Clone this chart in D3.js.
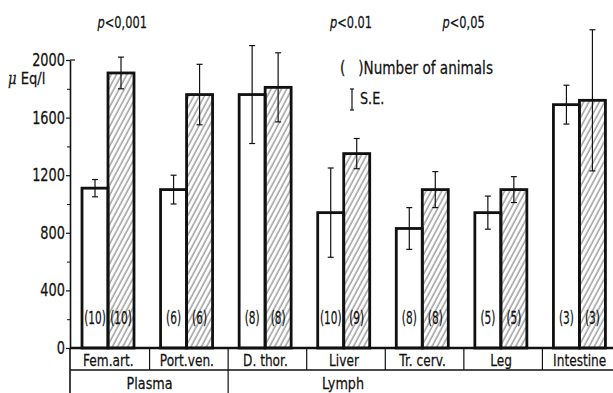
<!DOCTYPE html>
<html>
<head>
<meta charset="utf-8">
<script src="https://cdn.jsdelivr.net/npm/d3@7"></script>
<style>
  body { margin: 0; background: #fff; }
  svg { display: block; }
  text { font-family: "DejaVu Sans", sans-serif; fill: #111; stroke: #111; stroke-width: 0.25px; }
</style>
</head>
<body>
<div id="chart"></div>
<script>
var categories = ["Fem.art.", "Port.ven.", "D. thor.", "Liver", "Tr. cerv.", "Leg", "Intestine"]
var ctrlMean = [1110, 1100, 1760, 940, 830, 940, 1690]
var ctrlSE = [60, 100, 340, 310, 145, 115, 135]
var treatMean = [1910, 1760, 1810, 1350, 1100, 1100, 1720]
var treatSE = [110, 210, 240, 105, 125, 90, 490]
var ctrlN = [10, 6, 8, 10, 8, 5, 3]
var treatN = [10, 6, 8, 9, 8, 5, 3]
var yTicks = [0, 400, 800, 1200, 1600, 2000]
var pValues = ["p<0,001", "p<0.01", "p<0,05"]
var pCategory = ["Fem.art.", "Liver", "Tr. cerv."]
var groups = ["Plasma", "Lymph"]

var width = 613, height = 393

// the original lettering is a tall narrow face, squeeze DejaVu sideways
function narrow(sel, k) {
  sel.each(function() {
    var t = d3.select(this)
    var tx = +t.attr("x") || 0, ty = +t.attr("y") || 0
    t.attr("x", 0).attr("y", 0)
      .attr("transform", "translate(" + tx + "," + ty + ") scale(" + (k || 0.78) + ",1)")
  })
}

var svg = d3.select("#chart").append("svg")
  .attr("width", width)
  .attr("height", height)

var defs = svg.append("defs")
defs.append("pattern")
  .attr("id", "hatch")
  .attr("patternUnits", "userSpaceOnUse")
  .attr("width", 4.6)
  .attr("height", 10)
  .attr("patternTransform", "rotate(28)")
  .append("line")
    .attr("x1", 1).attr("y1", 0)
    .attr("x2", 1).attr("y2", 10)
    .attr("stroke", "#444")
    .attr("stroke-width", 0.8)

var x = d3.scaleBand().domain(categories).range([71, 621]).padding(0)
var inner = d3.scaleBand().domain(["ctrl", "treat"]).range([0, 52])
var barOffset = 11
var y = d3.scaleLinear().domain([0, 2000]).range([348, 60])

// y axis
var yAxis = svg.append("g")
  .attr("transform", "translate(70,0)")
  .call(d3.axisLeft(y).tickValues(yTicks).tickSize(4).tickSizeOuter(0).tickPadding(1).tickFormat(d3.format("d")))
yAxis.select(".domain").attr("stroke", "#111").attr("stroke-width", 1.6)
yAxis.selectAll(".tick line").attr("stroke", "#111").attr("stroke-width", 1.2)
yAxis.selectAll(".tick text")
  .style("font-size", "17px")
  .style("font-family", "'DejaVu Sans', sans-serif")
  .attr("fill", "#111")
  .call(narrow, 0.76)

svg.append("g")
  .attr("transform", "translate(70,0)")
  .call(d3.axisLeft(y).tickValues(d3.range(200, 2000, 400)).tickSize(3).tickFormat(""))
  .call(g => g.select(".domain").remove())
  .selectAll(".tick line").attr("stroke", "#111").attr("stroke-width", 1)

svg.append("line")
  .attr("x1", 70).attr("x2", 75)
  .attr("y1", y(2000)).attr("y2", y(2000))
  .attr("stroke", "#111").attr("stroke-width", 1.2)

svg.append("line")
  .attr("x1", 70).attr("x2", 70)
  .attr("y1", y(0)).attr("y2", height)
  .attr("stroke", "#111").attr("stroke-width", 1.6)

svg.append("text")
  .attr("x", 8).attr("y", 84)
  .style("font-size", "16px")
  .html("<tspan font-style='italic' font-family='DejaVu Serif'>μ</tspan> Eq/l")
  .call(narrow, 0.82)

// bars
var rows = categories.map(function(c, i) {
  return [
    {cat: c, key: "ctrl", mean: ctrlMean[i], se: ctrlSE[i], n: ctrlN[i]},
    {cat: c, key: "treat", mean: treatMean[i], se: treatSE[i], n: treatN[i]}
  ]
}).flat()

var bars = svg.append("g").selectAll("g")
  .data(rows)
  .enter().append("g")
  .attr("transform", function(d) { return "translate(" + (x(d.cat) + barOffset + inner(d.key)) + ",0)" })

bars.append("rect")
  .attr("x", 0)
  .attr("y", function(d) { return y(d.mean) })
  .attr("width", inner.bandwidth())
  .attr("height", function(d) { return y(0) - y(d.mean) })
  .attr("fill", function(d) { return d.key == "treat" ? "url(#hatch)" : "#fff" })
  .attr("stroke", "#111")
  .attr("stroke-width", 2.8)

bars.append("line")
  .attr("x1", inner.bandwidth() / 2).attr("x2", inner.bandwidth() / 2)
  .attr("y1", function(d) { return y(d.mean + d.se) })
  .attr("y2", function(d) { return y(d.mean - d.se) })
  .attr("stroke", "#111").attr("stroke-width", 1.2)

bars.selectAll(".cap")
  .data(function(d) { return [d.mean + d.se, d.mean - d.se] })
  .enter().append("line")
  .attr("x1", inner.bandwidth() / 2 - 3).attr("x2", inner.bandwidth() / 2 + 3)
  .attr("y1", function(v) { return y(v) }).attr("y2", function(v) { return y(v) })
  .attr("stroke", "#111").attr("stroke-width", 1.2)

bars.append("text")
  .attr("x", inner.bandwidth() / 2)
  .attr("y", 324)
  .attr("text-anchor", "middle")
  .style("font-size", "17px")
  .text(function(d) { return "(" + d.n + ")" })
  .call(narrow, 0.62)

// baseline and category boxes
svg.append("line")
  .attr("x1", 70).attr("x2", width)
  .attr("y1", y(0)).attr("y2", y(0))
  .attr("stroke", "#111").attr("stroke-width", 2.4)
svg.append("line")
  .attr("x1", 70).attr("x2", width)
  .attr("y1", 370).attr("y2", 370)
  .attr("stroke", "#111").attr("stroke-width", 1.4)

svg.append("g").selectAll("line")
  .data(categories.slice(1))
  .enter().append("line")
  .attr("x1", function(d) { return x(d) }).attr("x2", function(d) { return x(d) })
  .attr("y1", y(0)).attr("y2", 370)
  .attr("stroke", "#111").attr("stroke-width", 1.2)

svg.append("g").selectAll("text")
  .data(categories)
  .enter().append("text")
  .attr("x", function(d) { return x(d) + x.bandwidth() / 2 - 2 })
  .attr("y", 366)
  .attr("text-anchor", "middle")
  .style("font-size", "16px")
  .text(function(d) { return d })
  .call(narrow, 0.76)

// group row
svg.append("line")
  .attr("x1", x("D. thor.")).attr("x2", x("D. thor."))
  .attr("y1", 370).attr("y2", height)
  .attr("stroke", "#111").attr("stroke-width", 1.2)

svg.append("text")
  .attr("x", (x("Fem.art.") + x("D. thor.")) / 2)
  .attr("y", 389)
  .attr("text-anchor", "middle")
  .style("font-size", "16px")
  .text(groups[0])
  .call(narrow, 0.8)
svg.append("text")
  .attr("x", x("Liver") + x.bandwidth() / 2 - 3)
  .attr("y", 389)
  .attr("text-anchor", "middle")
  .style("font-size", "16px")
  .text(groups[1])
  .call(narrow, 0.8)

// p values
var pShift = [12, 5, 39]
svg.append("g").selectAll("text")
  .data(pValues)
  .enter().append("text")
  .attr("x", function(d, i) { return x(pCategory[i]) + x.bandwidth() / 2 + pShift[i] })
  .attr("y", 28)
  .attr("text-anchor", "middle")
  .style("font-size", "15px")
  .html(function(d) { return "<tspan font-style='italic'>p</tspan>" + d.slice(1) })
  .call(narrow, 0.76)

// legend
svg.append("text")
  .attr("x", 340).attr("y", 74)
  .style("font-size", "17px")
  .html("(&#160;&#160;&#160;)Number of animals")
  .call(narrow, 0.8)

var lx = 352
svg.append("line").attr("x1", lx).attr("x2", lx).attr("y1", 89).attr("y2", 110).attr("stroke", "#111").attr("stroke-width", 1.2)
svg.append("line").attr("x1", lx - 2).attr("x2", lx + 2).attr("y1", 89).attr("y2", 89).attr("stroke", "#111").attr("stroke-width", 1.2)
svg.append("line").attr("x1", lx - 2).attr("x2", lx + 2).attr("y1", 110).attr("y2", 110).attr("stroke", "#111").attr("stroke-width", 1.2)
svg.append("text")
  .attr("x", 360).attr("y", 104)
  .style("font-size", "16px")
  .text("S.E.")
  .call(narrow, 0.8)
</script>
</body>
</html>
